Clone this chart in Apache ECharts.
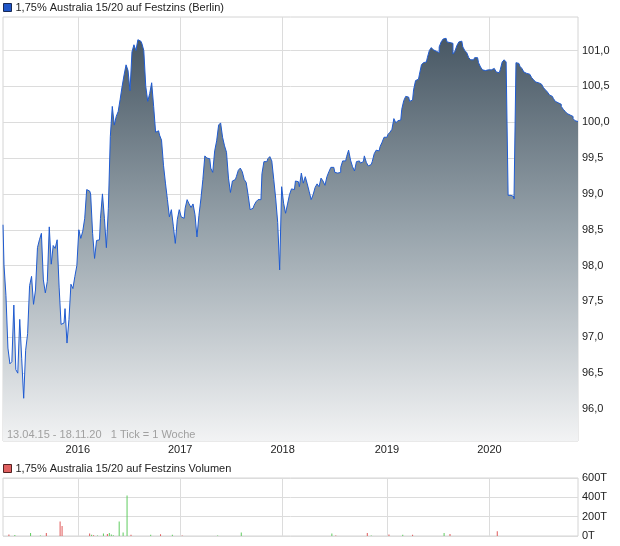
<!DOCTYPE html>
<html>
<head>
<meta charset="utf-8">
<script src="https://cdn.jsdelivr.net/npm/echarts@6/dist/echarts.min.js"></script>
<style>
  html, body { margin: 0; padding: 0; background: #fff; }
  #chart { width: 620px; height: 546px; }
</style>
</head>
<body>
<div id="chart"></div>
<script>
var startDate = '2015-04-13'
var yTicks = [96, 96.5, 97, 97.5, 98, 98.5, 99, 99.5, 100, 100.5, 101]
var seriesName = '1,75% Australia 15/20 auf Festzins (Berlin)'
var volumeName = '1,75% Australia 15/20 auf Festzins Volumen'
var footNote = '13.04.15 - 18.11.20   1 Tick = 1 Woche'

// Wochenschluss (1 Tick = 1 Woche)
var weeklyClose = [
  98.57, 98.01, 97.58, 96.85, 96.63, 96.66, 97.45, 96.55, 96.50, 97.25,
  96.70, 96.15, 96.82, 97.05, 97.72, 97.85, 97.46, 97.66, 98.25, 98.36,
  98.45, 97.80, 97.62, 97.78, 98.54, 98.02, 98.28, 98.24, 98.36, 97.70,
  97.18, 97.20, 97.40, 96.92, 97.25, 97.74, 97.68, 97.85, 98.00, 98.50,
  98.38, 98.48, 98.66, 99.06, 99.04, 99.00, 98.45, 98.10, 98.35, 98.36,
  98.66, 99.00, 98.66, 98.25, 98.80, 99.80, 100.22, 99.96, 100.08, 100.15,
  100.32, 100.50, 100.66, 100.80, 100.72, 100.44, 100.98, 101.08, 101.00, 101.15,
  101.13, 101.10, 101.00, 100.50, 100.29, 100.40, 100.55, 100.22, 99.86, 99.88,
  99.82, 99.75, 99.40, 99.15, 98.92, 98.68, 98.78, 98.55, 98.31, 98.64,
  98.78, 98.68, 98.66, 98.80, 98.92, 98.86, 98.81, 98.86, 98.71, 98.40,
  98.70, 98.93, 99.20, 99.53, 99.50, 99.49, 99.36, 99.30, 99.60, 99.74,
  99.96, 99.99, 99.79, 99.67, 99.58, 99.22, 99.02, 99.18, 99.20, 99.24,
  99.33, 99.36, 99.31, 99.20, 99.16, 98.98, 98.78, 98.80, 98.84, 98.89,
  98.92, 98.92, 99.28, 99.45, 99.45, 99.49, 99.52, 99.46, 99.20, 98.93,
  98.60, 97.94, 99.10, 98.87, 98.73, 98.86, 98.99, 99.07, 99.06, 99.18,
  99.17, 99.10, 99.29, 99.15, 99.24, 99.14, 99.03, 98.92, 98.99, 99.09,
  99.14, 99.10, 99.22, 99.18, 99.12, 99.24, 99.31, 99.37, 99.37, 99.30,
  99.29, 99.30, 99.37, 99.46, 99.46, 99.52, 99.61, 99.47, 99.38, 99.32,
  99.45, 99.46, 99.43, 99.45, 99.53, 99.44, 99.39, 99.41, 99.45, 99.56,
  99.61, 99.60, 99.66, 99.72, 99.79, 99.79, 99.83, 99.86, 99.90, 100.05,
  99.99, 100.02, 100.03, 100.18, 100.30, 100.36, 100.35, 100.29, 100.31, 100.45,
  100.58, 100.60, 100.67, 100.80, 100.83, 100.84, 100.90, 101.00, 101.04, 101.01,
  100.99, 100.97, 101.05, 101.12, 101.16, 101.17, 101.12, 101.11, 101.10, 100.95,
  100.99, 101.07, 101.12, 101.13, 101.05, 101.00, 100.97, 100.90, 100.87, 100.87,
  100.90, 100.90, 100.83, 100.77, 100.73, 100.72, 100.73, 100.74, 100.73, 100.75,
  100.76, 100.70, 100.69, 100.73, 100.84, 100.87, 100.84, 98.98, 98.98, 98.96,
  98.93, 100.83, 100.82, 100.78, 100.75, 100.70, 100.68, 100.67, 100.65, 100.62,
  100.59, 100.56, 100.55, 100.53, 100.51, 100.48, 100.45, 100.42, 100.38, 100.36,
  100.33, 100.29, 100.27, 100.25, 100.22, 100.18, 100.15, 100.12, 100.10, 100.08,
  100.05, 100.02, 100.01
]

// Volumen: Wochen-Index, Stueck in Tausend, Richtung (u = gruen, d = rot)
var volWeek = [3, 6, 14, 19, 22, 29, 30, 44, 45, 46, 48, 51, 53, 54, 55, 56, 59, 61, 63, 65,
  75, 80, 86, 91, 109, 121, 167, 169, 185, 187, 196, 203, 208, 224, 227, 251]
var volValue = [15, 10, 30, 4, 30, 150, 103, 27, 12, 8, 5, 27, 20, 30, 15, 8, 150, 37, 420, 12,
  12, 17, 12, 5, 5, 37, 27, 5, 30, 5, 15, 12, 12, 30, 20, 50]
var volDir = ['d', 'u', 'u', 'u', 'd', 'd', 'd', 'd', 'u', 'd', 'u', 'u', 'd', 'u', 'u', 'u', 'u', 'u', 'u', 'd',
  'u', 'd', 'u', 'd', 'u', 'u', 'u', 'd', 'd', 'u', 'd', 'u', 'd', 'u', 'd', 'd']

// Kategorien: eine Woche je Tick
var weeks = []
var t0 = new Date(startDate + 'T00:00:00Z').getTime()
for (var i = 0; i < weeklyClose.length; i++) {
  weeks.push(new Date(t0 + i * 7 * 86400000).toISOString().slice(0, 10))
}
function isYearStart(index) {
  if (index === 0) return false
  return weeks[index].slice(0, 4) !== weeks[index - 1].slice(0, 4)
}

var volData = weeks.map(function () { return null })
volWeek.forEach(function (w, k) {
  volData[w] = {
    value: volValue[k] * 1000,
    itemStyle: { color: volDir[k] === 'u' ? '#5fcc5f' : '#e05a5a' }
  }
})

var font = 'Liberation Sans, Arial, sans-serif'
var chart = echarts.init(document.getElementById('chart'))
var option = {
  animation: false,
  backgroundColor: '#fff',
  textStyle: { fontFamily: font },
  legend: [{
    data: [seriesName],
    left: 3, top: 2, padding: 0,
    itemWidth: 8, itemHeight: 8, itemGap: 4,
    icon: 'rect',
    itemStyle: { color: '#1f56c8', borderColor: '#1a2a55', borderWidth: 1 },
    textStyle: { fontSize: 11, color: '#222', fontFamily: font, padding: [0, 0, 0, -1] }
  }, {
    data: [volumeName],
    left: 3, top: 463, padding: 0,
    itemWidth: 8, itemHeight: 8,
    icon: 'rect',
    itemStyle: { color: '#e06060', borderColor: '#552222', borderWidth: 1 },
    textStyle: { fontSize: 11, color: '#222', fontFamily: font, padding: [0, 0, 0, -1] }
  }],
  graphic: [{
    type: 'text', left: 7, top: 429, z: 100,
    style: { text: footNote, fill: '#a0a0a0', font: '11px ' + font }
  }],
  grid: [
    { left: 3, right: 42, top: 17, height: 424, show: true, borderColor: '#d4d4d4', borderWidth: 1 },
    { left: 3, right: 42, top: 478, height: 58, show: true, borderColor: '#d4d4d4', borderWidth: 1 }
  ],
  xAxis: [{
    type: 'category', gridIndex: 0, data: weeks, boundaryGap: false,
    axisLine: { show: false },
    axisTick: { show: false, interval: function (i) { return isYearStart(i) } },
    axisLabel: {
      interval: function (i) { return isYearStart(i) },
      formatter: function (v) { return v.slice(0, 4) },
      color: '#222', fontSize: 11, margin: 3
    },
    splitLine: { show: true, interval: function (i) { return isYearStart(i) }, lineStyle: { color: '#dcdcdc' } }
  }, {
    type: 'category', gridIndex: 1, data: weeks, boundaryGap: false,
    axisLine: { show: false },
    axisTick: { show: false, interval: function (i) { return isYearStart(i) } },
    axisLabel: { show: false },
    splitLine: { show: true, interval: function (i) { return isYearStart(i) }, lineStyle: { color: '#dcdcdc' } }
  }],
  yAxis: [{
    type: 'value', gridIndex: 0, position: 'right',
    min: 95.554, max: 101.467,
    axisLine: { show: false },
    axisTick: { show: false, customValues: yTicks },
    axisLabel: {
      customValues: yTicks,
      color: '#222', fontSize: 11, margin: 4,
      formatter: function (v) { return v.toFixed(1).replace('.', ',') }
    },
    splitLine: { show: true, lineStyle: { color: '#dcdcdc' } }
  }, {
    type: 'value', gridIndex: 1, position: 'right',
    min: 0, max: 600000, interval: 200000,
    axisLine: { show: false },
    axisTick: { show: false },
    axisLabel: {
      color: '#222', fontSize: 11, margin: 4,
      formatter: function (v) { return (v / 1000) + 'T' }
    },
    splitLine: { show: true, lineStyle: { color: '#dcdcdc' } }
  }],
  series: [{
    name: seriesName,
    type: 'line',
    xAxisIndex: 0, yAxisIndex: 0,
    data: weeklyClose,
    symbol: 'none',
    step: 'middle',
    color: '#1f56c8',
    lineStyle: { width: 1, color: '#1f5bd1' },
    areaStyle: {
      origin: 'start',
      opacity: 1,
      color: new echarts.graphic.LinearGradient(0, 17, 0, 441, [
        { offset: 0, color: '#3f4f5c' },
        { offset: 0.5, color: '#97a3ab' },
        { offset: 1, color: '#f2f3f4' }
      ], true)
    }
  }, {
    name: volumeName,
    type: 'bar',
    xAxisIndex: 1, yAxisIndex: 1,
    data: volData,
    color: '#e06060',
    barWidth: 1
  }]
}
chart.setOption(option)
</script>
</body>
</html>
